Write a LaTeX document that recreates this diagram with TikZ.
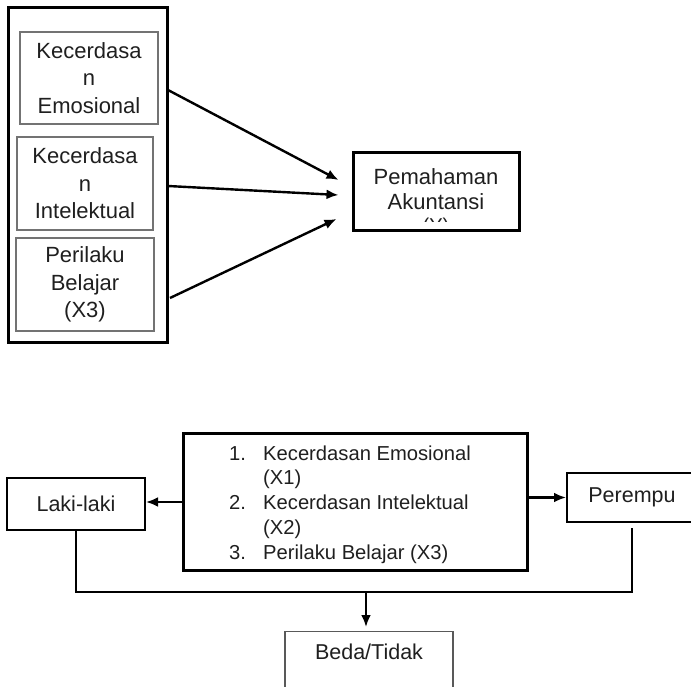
\documentclass[tikz,border=0pt]{standalone}
\usepackage{fontspec}
\setmainfont{Liberation Sans}
\usetikzlibrary{arrows.meta, positioning, calc}

\begin{document}
\begin{tikzpicture}[x=1pt, y=-1pt,
	every node/.style={text=black!88, font=\fontsize{22}{27.5}\selectfont},
	frame/.style={draw=black, line width=3pt, inner sep=0pt},
	inbox/.style={draw=black!55, line width=1.4pt, inner sep=0pt, align=center},
	sidebox/.style={draw=black, line width=2pt, inner sep=0pt, font=\fontsize{21.5}{26}\selectfont},
	listtext/.style={anchor=base west, inner sep=0pt, font=\fontsize{20.2}{24}\selectfont},
	arr/.style={-{Latex[length=12pt,width=10pt]}, line width=2.4pt},
	link/.style={line width=2.4pt}]
	\useasboundingbox (0,0) rectangle (691,687);
	\clip (0,0) rectangle (691,687);

	% upper model
	\node[frame, minimum width=159pt, minimum height=334pt] (outer) at (87.5,175) {};
	\node[inbox, minimum width=138pt, minimum height=92pt] (emo) at (89,78) {Kecerdasa\\n\\Emosional};
	\node[inbox, minimum width=136pt, minimum height=93pt] (intel) at (85,183.5) {Kecerdasa\\n\\Intelektual};
	\node[inbox, minimum width=138pt, minimum height=93pt] (belajar) at (85,284.5) {Perilaku\\Belajar\\(X3)};

	\node[frame, minimum width=166pt, minimum height=78pt] (pem) at (436,192) {};
	\node[align=center, inner sep=0pt, font=\fontsize{22}{25}\selectfont] (pemtxt)
		at ($(pem.center)+(0,-3)$) {Pemahaman\\Akuntansi};
	\begin{scope}
		\clip (353,153) rectangle (519,222);
		\node[anchor=base, inner sep=0pt, font=\fontsize{20}{24}\selectfont] (pemy) at (436,233) {(Y)};
	\end{scope}

	\coordinate (s1) at (168,90);
	\coordinate (s2) at (168,186);
	\coordinate (s3) at (170,298);
	\coordinate (t1) at ($(pem.west)+(-13,-12)$);
	\coordinate (t2) at ($(pem.west)+(-13,3)$);
	\coordinate (t3) at ($(pem.west)+(-15,27)$);
	\draw[arr] (s1) -- (t1);
	\draw[arr] (s2) -- (t2);
	\draw[arr] (s3) -- (t3);

	% lower model
	\node[frame, minimum width=344pt, minimum height=137pt] (main) at (355,501.5) {};
	\node[listtext] (n1) at (229,460) {1.};
	\node[listtext] (l1) at (263,460) {Kecerdasan Emosional};
	\node[listtext] (l1b) at (263,484) {(X1)};
	\node[listtext] (n2) at (229,509) {2.};
	\node[listtext] (l2) at (263,509) {Kecerdasan Intelektual};
	\node[listtext] (l2b) at (263,534) {(X2)};
	\node[listtext] (n3) at (229,559) {3.};
	\node[listtext] (l3) at (263,559) {Perilaku Belajar (X3)};

	\node[sidebox, minimum width=138pt, minimum height=52pt] (laki) at (76,504) {Laki-laki};
	\node[sidebox, minimum width=130pt, minimum height=49pt] (perempu) at (632,497.5) {Perempu};
	\node[sidebox, draw=black!65, line width=1.4pt, anchor=north, minimum width=168pt,
		text height=28pt, text depth=40pt] (beda) at (369,631) {Beda/Tidak};

	\draw[arr] (main.west |- 0,502) -- (laki.east |- 0,502);
	\draw[arr] (main.east |- perempu) -- (perempu.west);

	\coordinate (join) at (366,592);
	\draw[link, shorten >=5pt] (laki.south) |- (join) -| (perempu.south);
	\draw[arr, shorten >=4pt] (join) -- (join |- beda.north);
\end{tikzpicture}
\end{document}
